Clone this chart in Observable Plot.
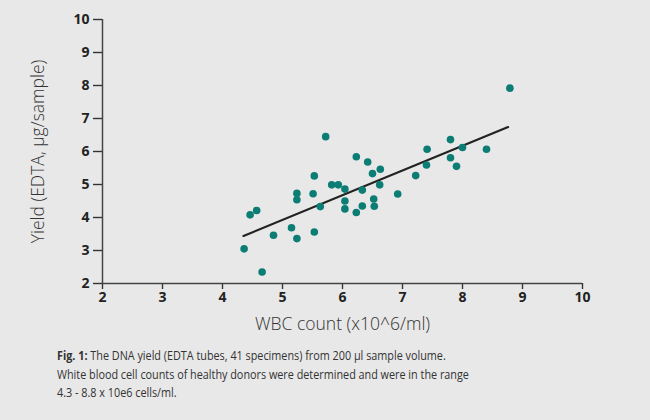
<!DOCTYPE html>
<html>
<head>
<meta charset="utf-8">
<script src="https://cdn.jsdelivr.net/npm/d3@7"></script>
<script src="https://cdn.jsdelivr.net/npm/@observablehq/plot@0.6"></script>
<style>
  html, body { margin: 0; padding: 0; background: #e8e8e8; }
  #chart { width: 650px; }
  #caption { font-family: "Open Sans", sans-serif; font-size: 13.2px; line-height: 18.5px; color: #333; margin-left: 57px; margin-top: 6px; width: 640px; white-space: nowrap; transform: scaleX(0.82); transform-origin: left top; }
  #caption b { font-weight: 700; }
</style>
</head>
<body>
<div id="chart"></div>
<div id="caption"><b>Fig. 1:</b> The DNA yield (EDTA tubes, 41 specimens) from 200 µl sample volume.<br>White blood cell counts of healthy donors were determined and were in the range<br>4.3 - 8.8 x 10e6 cells/ml.</div>
<script>
const wbc = [4.36, 4.66, 4.46, 4.57, 4.85, 5.15, 5.24, 5.24, 5.24, 5.53, 5.51, 5.53, 5.63, 5.72, 5.82, 5.93, 6.04, 6.04, 6.04, 6.23, 6.42, 6.50, 6.63, 6.62, 6.33, 6.52, 6.53, 6.33, 6.23, 6.92, 7.22, 7.41, 7.40, 7.80, 7.90, 8.00, 8.40, 7.80, 8.79];
const yieldVals = [3.05, 2.35, 4.08, 4.21, 3.46, 3.69, 3.36, 4.73, 4.54, 5.26, 4.72, 3.56, 4.33, 6.45, 4.99, 4.99, 4.86, 4.50, 4.26, 5.84, 5.68, 5.33, 5.46, 4.99, 4.83, 4.56, 4.34, 4.35, 4.15, 4.71, 5.27, 6.07, 5.59, 5.81, 5.55, 6.12, 6.07, 6.36, 7.92];
const fitX = [4.35, 8.76];
const fitY = [3.44, 6.74];
const xTicks = [2, 3, 4, 5, 6, 7, 8, 9, 10];
const yTicks = [2, 3, 4, 5, 6, 7, 8, 9, 10];
const xLabel = "WBC count (x10^6/ml)";
const yLabel = "Yield (EDTA, µg/sample)";

const points = wbc.map((x, i) => ({x, y: yieldVals[i]}));
const fit = fitX.map((x, i) => ({x, y: fitY[i]}));

const chart = Plot.plot({
  width: 650,
  height: 340,
  marginLeft: 102,
  marginRight: 68,
  marginTop: 19,
  marginBottom: 57,
  style: {background: "transparent", fontFamily: "Open Sans, sans-serif", color: "#222"},
  x: {domain: [2, 10]},
  y: {domain: [2, 10]},
  marks: [
    Plot.axisX({ticks: xTicks, tickSize: 6, tickPadding: 3, fontSize: 14, fontWeight: "bold", label: null, stroke: "#333", strokeWidth: 1.4}),
    Plot.axisY({ticks: yTicks, tickSize: 9, tickPadding: 4, fontSize: 14, fontWeight: "bold", label: null, stroke: "#333", strokeWidth: 1.4}),
    Plot.ruleX([2], {stroke: "#444", strokeWidth: 1.5}),
    Plot.ruleY([2], {stroke: "#444", strokeWidth: 1.5}),
    Plot.text([xLabel], {text: d => d, frameAnchor: "bottom", dy: 46, fontSize: 17.5, fontWeight: 300, fill: "#333"}),
    Plot.text([yLabel], {text: d => d, frameAnchor: "left", textAnchor: "middle", dx: -64, rotate: -90, fontSize: 17.5, fontWeight: 300, fill: "#333"}),
    Plot.line(fit, {x: "x", y: "y", stroke: "#222", strokeWidth: 2.2}),
    Plot.dot(points, {x: "x", y: "y", r: 3.8, fill: "#0b7d74", stroke: "none"})
  ]
});
document.getElementById("chart").append(chart);
</script>
</body>
</html>
